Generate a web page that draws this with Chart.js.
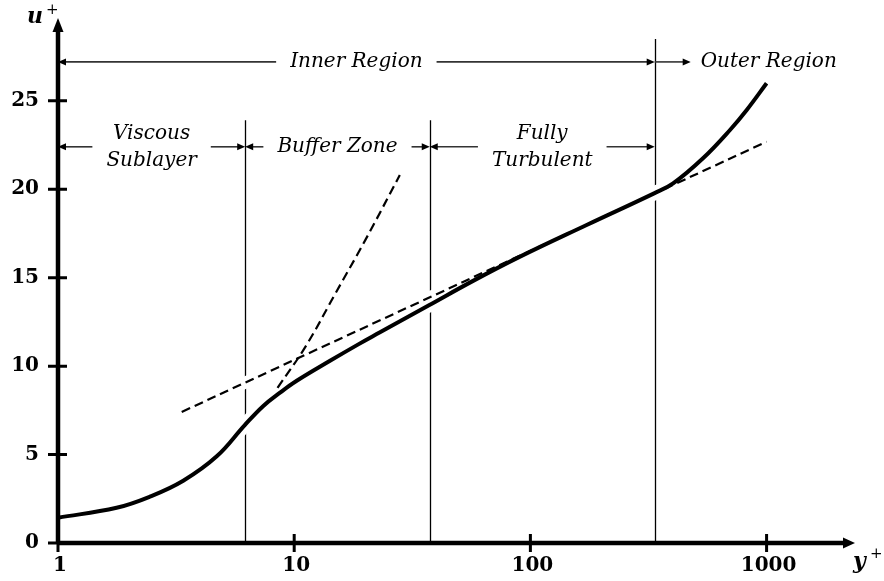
<!DOCTYPE html>
<html>
<head>
<meta charset="utf-8">
<script src="https://cdn.jsdelivr.net/npm/chart.js@4.4.1/dist/chart.umd.min.js"></script>
<style>
  html, body { margin: 0; padding: 0; background: #fff; }
  #wrap { width: 884px; height: 581px; }
</style>
</head>
<body>
<div id="wrap"><canvas id="profileChart"></canvas></div>
<script>
const ctx = document.getElementById("profileChart").getContext("2d");

// velocity profile u+ against y+
const profileY = [1, 1.77, 2.45, 3.39, 4.7, 6.19, 7.4, 8.71, 10.25, 14.18, 18.68, 23.08, 37.2, 57.2, 90.4, 173, 334, 402, 538, 700, 824, 1000];
const profileU = [1.43, 1.99, 2.62, 3.52, 4.9, 6.68, 7.75, 8.5, 9.17, 10.3, 11.23, 11.91, 13.44, 14.82, 16.19, 17.98, 19.77, 20.33, 21.75, 23.35, 24.48, 25.99];

// sublayer fit (dashed, steep)
const viscousY = [8.5, 11.2, 15.0, 20.1, 28.0];
const viscousU = [8.77, 11.13, 14.15, 17.18, 20.8];

// log law (dashed, straight on the log axis)
const logLawY = [3.34, 1000];
const logLawU = [7.41, 22.69];

const xTicks = [1, 10, 100, 1000];
const yTicks = [0, 5, 10, 15, 20, 25];
const xMax = 2255;
const yMax = 29.4;

// region edges in y+ and the labels between them
const regionEdges = [1, 6.2, 37.5, 336];
const regionLabels = [["Viscous", "Sublayer"], ["Buffer Zone"], ["Fully", "Turbulent"]];
const innerLabel = "Inner Region";
const outerLabel = "Outer Region";

// heights (in u+) of the arrow rows and the top of the boundary lines
const regionRowU = 22.4;
const innerRowU = 27.2;
const regionTopU = 23.9;
const outerTopU = 28.5;

const serif = "'DejaVu Serif', serif";

function toPoints(xs, ys) {
  return xs.map((v, i) => ({ x: v, y: ys[i] }));
}

function lineSet(xs, ys, color, width, dash, order) {
  return {
    data: toPoints(xs, ys),
    borderColor: color,
    borderWidth: width,
    borderDash: dash,
    pointRadius: 0,
    fill: false,
    tension: 0.4,
    order: order,
  };
}

// arrow along a row, head at xTo
function drawArrow(c, xFrom, xTo, yy) {
  const dir = Math.sign(xTo - xFrom);
  c.beginPath();
  c.moveTo(xFrom, yy);
  c.lineTo(xTo - dir * 6, yy);
  c.stroke();
  c.beginPath();
  c.moveTo(xTo, yy);
  c.lineTo(xTo - dir * 8, yy - 3.5);
  c.lineTo(xTo - dir * 8, yy + 3.5);
  c.closePath();
  c.fill();
}

// label centred between two edges, arrows pointing out to both edges
function drawSpan(c, left, right, yy, lines) {
  const center = (left + right) / 2;
  const w = Math.max(...lines.map((t) => c.measureText(t).width));
  lines.forEach((t, i) => {
    c.fillText(t, center, yy + (i - (lines.length - 1) / 2) * 27);
  });
  drawArrow(c, center - w / 2 - 14, left, yy);
  drawArrow(c, center + w / 2 + 14, right, yy);
}

const regionPlugin = {
  id: "regions",
  beforeDatasetsDraw(chart) {
    const { ctx: c, scales: { x, y } } = chart;
    c.save();
    c.strokeStyle = "#000";
    c.lineWidth = 1.3;
    regionEdges.slice(1).forEach((b, i, arr) => {
      const px = Math.round(x.getPixelForValue(b)) + 0.5;
      const top = y.getPixelForValue(i === arr.length - 1 ? outerTopU : regionTopU);
      c.beginPath();
      c.moveTo(px, top);
      c.lineTo(px, y.getPixelForValue(0));
      c.stroke();
    });
    c.restore();
  },
  afterDraw(chart) {
    const { ctx: c, chartArea, scales: { x, y } } = chart;
    const x0 = x.getPixelForValue(1);
    const y0 = y.getPixelForValue(0);
    c.save();

    // axis lines with arrowheads
    c.strokeStyle = "#000";
    c.fillStyle = "#000";
    c.lineWidth = 4.5;
    c.beginPath();
    c.moveTo(x0, y0);
    c.lineTo(x0, chartArea.top + 6);
    c.moveTo(x0, y0);
    c.lineTo(chartArea.right - 4, y0);
    c.stroke();
    c.beginPath();
    c.moveTo(x0, chartArea.top - 5);
    c.lineTo(x0 - 5.5, chartArea.top + 9);
    c.lineTo(x0 + 5.5, chartArea.top + 9);
    c.closePath();
    c.fill();
    c.beginPath();
    c.moveTo(chartArea.right + 5, y0);
    c.lineTo(chartArea.right - 7, y0 - 5.5);
    c.lineTo(chartArea.right - 7, y0 + 5.5);
    c.closePath();
    c.fill();

    // tick marks crossing the axes
    c.lineWidth = 3;
    c.beginPath();
    yTicks.forEach((v) => {
      const py = y.getPixelForValue(v);
      c.moveTo(x0 - 10, py);
      c.lineTo(x0 + 9, py);
    });
    xTicks.forEach((v) => {
      const px = x.getPixelForValue(v);
      c.moveTo(px, y0 - 9);
      c.lineTo(px, y0 + 9);
    });
    c.stroke();

    // axis titles
    c.textAlign = "left";
    c.textBaseline = "alphabetic";
    c.font = "italic bold 22px " + serif;
    c.fillText("u", x0 - 31, chartArea.top);
    c.fillText("y", chartArea.right + 3, y0 + 25);
    c.font = "15px " + serif;
    c.fillText("+", x0 - 12, chartArea.top - 9);
    c.fillText("+", chartArea.right + 20, y0 + 15);

    // region arrows and labels
    c.font = "italic 20px " + serif;
    c.textAlign = "center";
    c.textBaseline = "middle";
    c.strokeStyle = "#333";
    c.fillStyle = "#000";
    c.lineWidth = 1.6;
    const edges = regionEdges.map((v) => x.getPixelForValue(v));
    const rowY = y.getPixelForValue(regionRowU);
    regionLabels.forEach((lines, i) => {
      drawSpan(c, edges[i], edges[i + 1], rowY, lines);
    });
    const innerY = y.getPixelForValue(innerRowU);
    const outerEdge = edges[edges.length - 1];
    drawSpan(c, edges[0], outerEdge, innerY, [innerLabel]);
    drawArrow(c, outerEdge, outerEdge + 36, innerY);
    c.textAlign = "left";
    c.fillText(outerLabel, outerEdge + 46, innerY);

    c.restore();
  },
};

const profileChart = new Chart(ctx, {
  type: "line",
  data: {
    datasets: [
      // white halos break the boundary lines where the curves cross them
      lineSet(profileY, profileU, "#fff", 14, [], 5),
      lineSet(logLawY, logLawU, "#fff", 12, [], 4),
      lineSet(viscousY, viscousU, "#000", 2.2, [9, 5], 2),
      lineSet(logLawY, logLawU, "#000", 2.2, [9, 5], 2),
      lineSet(profileY, profileU, "#000", 4, [], 0),
    ],
  },
  options: {
    responsive: true,
    maintainAspectRatio: false,
    animation: false,
    events: [],
    layout: { padding: { top: 23, right: 34, left: 0, bottom: 0 } },
    plugins: {
      legend: { display: false },
      tooltip: { enabled: false },
    },
    scales: {
      x: {
        type: "logarithmic",
        min: 1,
        max: xMax,
        grid: { display: false, drawTicks: false },
        border: { display: false },
        afterBuildTicks: (scale) => {
          scale.ticks = xTicks.map((v) => ({ value: v }));
        },
        afterFit: (scale) => {
          scale.height = 38;
          scale.paddingLeft = 0;
          scale.paddingRight = 0;
        },
        ticks: {
          callback: (v) => String(v),
          color: "#000",
          padding: 11,
          labelOffset: 2,
          maxRotation: 0,
          autoSkip: false,
          font: { family: serif, weight: "bold", size: 20 },
        },
      },
      y: {
        min: 0,
        max: yMax,
        grid: { display: false, drawTicks: false },
        border: { display: false },
        afterBuildTicks: (scale) => {
          scale.ticks = yTicks.map((v) => ({ value: v }));
        },
        afterFit: (scale) => {
          scale.width = 58;
          scale.paddingTop = 0;
          scale.paddingBottom = 0;
        },
        ticks: {
          color: "#000",
          padding: 19,
          font: { family: serif, weight: "bold", size: 20 },
        },
      },
    },
  },
  plugins: [regionPlugin],
});
</script>
</body>
</html>
